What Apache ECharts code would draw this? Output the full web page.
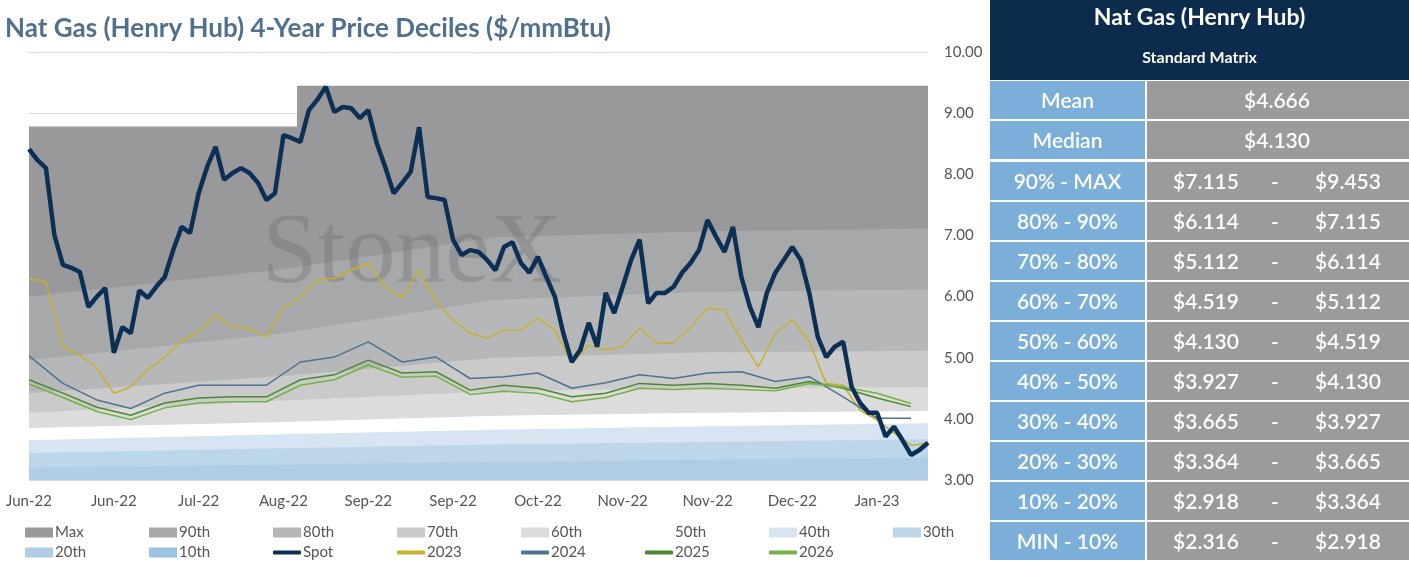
<!DOCTYPE html>
<html>
<head>
<meta charset="utf-8">
<script src="https://cdn.jsdelivr.net/npm/echarts@6/dist/echarts.min.js"></script>
<style>
  html, body { margin: 0; padding: 0; background: #fff; }
  #main { width: 1409px; height: 561px; }
</style>
</head>
<body>
<div id="main"></div>
<script>
// x tick labels, one every 10 trading days
var tickLabels = ['Jun-22', 'Jun-22', 'Jul-22', 'Aug-22', 'Sep-22', 'Sep-22', 'Oct-22', 'Nov-22', 'Nov-22', 'Dec-22', 'Jan-23'];

// spot, one value per trading day (index 0..106)
var spot = [8.41, 8.23, 8.10, 7.00, 6.52, 6.47, 6.40, 5.83, 6.00, 6.14,
  5.08, 5.50, 5.40, 6.10, 5.98, 6.16, 6.32, 6.76, 7.14, 7.04,
  7.69, 8.12, 8.45, 7.91, 8.02, 8.10, 8.02, 7.86, 7.58, 7.69,
  8.64, 8.59, 8.53, 9.05, 9.22, 9.43, 9.02, 9.10, 9.08, 8.92,
  9.05, 8.51, 8.12, 7.69, 7.86, 8.04, 8.77, 7.63, 7.61, 7.58,
  6.93, 6.68, 6.76, 6.73, 6.60, 6.43, 6.81, 6.89, 6.55, 6.39,
  6.65, 6.32, 6.00, 5.40, 4.93, 5.13, 5.57, 5.18, 6.06, 5.73,
  6.16, 6.60, 6.93, 5.89, 6.06, 6.06, 6.16, 6.39, 6.55, 6.76,
  7.25, 6.98, 6.73, 7.14, 6.32, 5.83, 5.50, 6.06, 6.39, 6.60,
  6.81, 6.60, 6.06, 5.34, 5.01, 5.18, 5.26, 4.52, 4.26, 4.10,
  4.10, 3.71, 3.87, 3.65, 3.41, 3.49, 3.61];

// strips, read every 2 days (2023) and every 4 days (2024-2026)
var strip2023 = [6.30, 6.24, 5.18, 5.04, 4.83, 4.42, 4.52, 4.80, 5.01, 5.29,
  5.42, 5.70, 5.50, 5.48, 5.34, 5.81, 5.98, 6.27, 6.30, 6.43,
  6.55, 6.16, 5.98, 6.43, 5.91, 5.62, 5.40, 5.32, 5.45, 5.45,
  5.65, 5.45, 4.91, 5.21, 5.13, 5.18, 5.49, 5.24, 5.24, 5.50,
  5.81, 5.78, 5.29, 4.85, 5.40, 5.62, 5.26, 4.58, 4.55, 4.14,
  3.98, 3.77, 3.57, 3.60];
var strip2024 = [5.03, 4.58, 4.31, 4.17, 4.42, 4.55, 4.55, 4.55, 4.93, 5.01,
  5.26, 4.93, 5.01, 4.66, 4.69, 4.75, 4.50, 4.59, 4.72, 4.66,
  4.75, 4.77, 4.61, 4.69, 4.36, 4.01, 4.01];
var strip2025 = [4.64, 4.42, 4.19, 4.06, 4.26, 4.34, 4.36, 4.36, 4.64, 4.72,
  4.96, 4.75, 4.77, 4.47, 4.55, 4.50, 4.36, 4.42, 4.58, 4.55,
  4.58, 4.55, 4.50, 4.61, 4.50, 4.34, 4.20];
var strip2026 = [4.57, 4.35, 4.12, 3.99, 4.18, 4.26, 4.28, 4.28, 4.55, 4.64,
  4.88, 4.68, 4.70, 4.40, 4.45, 4.42, 4.28, 4.35, 4.50, 4.48,
  4.50, 4.48, 4.46, 4.58, 4.52, 4.42, 4.25];

// decile boundaries at days 0, 30, 55, 80, 106
var decileDays = [0, 30, 55, 80, 106];
var maxDays = [0, 31.6, 31.6, 106];
var pMax = [8.78, 8.78, 9.45, 9.45];
var p90 = [6.00, 6.45, 6.97, 7.07, 7.115];
var p80 = [4.96, 5.40, 5.95, 6.08, 6.114];
var p70 = [4.42, 4.70, 5.00, 5.09, 5.112];
var p60 = [4.10, 4.30, 4.45, 4.50, 4.519];
var p50 = [3.85, 3.95, 4.05, 4.10, 4.130];
var p40 = [3.65, 3.75, 3.82, 3.88, 3.927];
var p30 = [3.44, 3.52, 3.58, 3.62, 3.665];
var p20 = [3.20, 3.25, 3.30, 3.33, 3.364];
var p10 = [2.90, 2.90, 2.91, 2.92, 2.918];

// table on the right
var tableTitle = 'Nat Gas (Henry Hub)';
var tableSub = 'Standard Matrix';
var meanVal = '$4.666';
var medianVal = '$4.130';
var rangeLabels = ['90% - MAX', '80% - 90%', '70% - 80%', '60% - 70%', '50% - 60%', '40% - 50%', '30% - 40%', '20% - 30%', '10% - 20%', 'MIN - 10%'];
var rangeLow = ['$7.115', '$6.114', '$5.112', '$4.519', '$4.130', '$3.927', '$3.665', '$3.364', '$2.918', '$2.316'];
var rangeHigh = ['$9.453', '$7.115', '$6.114', '$5.112', '$4.519', '$4.130', '$3.927', '$3.665', '$3.364', '$2.918'];

var FONT = 'Lato';
var myChart = echarts.init(document.getElementById('main'));

function pairs(xs, ys) {
  return ys.map(function (v, i) { return [xs[i], v]; });
}
function stepped(vals, step) {
  return vals.map(function (v, i) { return [Math.min(i * step, 106), v]; });
}
function band(name, xs, ys, color) {
  return {
    name: name, type: 'line', data: pairs(xs, ys), symbol: 'none', z: 1,
    lineStyle: { width: 0 }, itemStyle: { color: color },
    areaStyle: { color: color, opacity: 1, origin: 'start' }, silent: true
  };
}
function line(name, data, color, width) {
  return {
    name: name, type: 'line', data: data, symbol: 'none', z: 3,
    lineStyle: { color: color, width: width }, itemStyle: { color: color }
  };
}

var series = [
  band('Max', maxDays, pMax, '#99999b'),
  band('90th', decileDays, p90, '#a7a8aa'),
  band('80th', decileDays, p80, '#b6b7b9'),
  band('70th', decileDays, p70, '#cacaca'),
  band('60th', decileDays, p60, '#dcdcdc'),
  band('50th', decileDays, p50, '#ffffff'),
  band('40th', decileDays, p40, '#d7e5f2'),
  band('30th', decileDays, p30, '#bcd6ea'),
  band('20th', decileDays, p20, '#b0cde5'),
  band('10th', decileDays, p10, '#9dc3e2'),
  line('Spot', stepped(spot, 1), '#0c2f55', 4.5),
  line('2023', stepped(strip2023, 2), '#c9b02a', 1.5),
  line('2024', stepped(strip2024, 4), '#4e7391', 1.5),
  line('2025', stepped(strip2025, 4), '#4a8a2c', 1.5),
  line('2026', stepped(strip2026, 4), '#72b343', 1.5)
];
series[10].z = 4;

// table graphics
var g = [];
var TX = 990, TW = 419, COL = 155;
g.push({ type: 'rect', shape: { x: TX, y: 0, width: TW, height: 80 }, style: { fill: '#0d2b4d' } });
g.push({ type: 'text', x: TX + TW / 2, y: 18, style: { text: tableTitle, fill: '#fff', font: 'bold 23px ' + FONT, textAlign: 'center', textVerticalAlign: 'middle' } });
g.push({ type: 'text', x: TX + TW / 2, y: 58, style: { text: tableSub, fill: '#fff', font: 'bold 16px ' + FONT, textAlign: 'center', textVerticalAlign: 'middle' } });
function row(y, label, cells) {
  g.push({ type: 'rect', shape: { x: TX, y: y, width: COL, height: 38 }, style: { fill: '#7bafd9' } });
  g.push({ type: 'rect', shape: { x: TX + COL + 2, y: y, width: TW - COL - 2, height: 38 }, style: { fill: '#9a9b9d' } });
  g.push({ type: 'text', x: TX + COL / 2, y: y + 20, style: { text: label, fill: '#fff', font: '600 21px ' + FONT, textAlign: 'center', textVerticalAlign: 'middle' } });
  cells.forEach(function (c) {
    g.push({ type: 'text', x: c[0], y: y + 20, style: { text: c[1], fill: '#fff', font: '600 21px ' + FONT, textAlign: 'center', textVerticalAlign: 'middle' } });
  });
}
row(81, 'Mean', [[1277, meanVal]]);
row(121, 'Median', [[1277, medianVal]]);
rangeLabels.forEach(function (lab, i) {
  row(162 + i * 40, lab, [[1206, rangeLow[i]], [1275, '-'], [1348, rangeHigh[i]]]);
});
g.push({ type: 'text', x: 5, y: 29, style: { text: 'Nat Gas (Henry Hub) 4-Year Price Deciles ($/mmBtu)', fill: '#50708d', font: 'bold 26px ' + FONT, textVerticalAlign: 'middle' } });
g.push({ type: 'text', x: 262, y: 255, z: 2, style: { text: 'StoneX', fill: 'rgba(110,110,112,0.35)', font: '100px "Liberation Serif"', textVerticalAlign: 'middle' } });

// legend: one small legend per item on a fixed 124px pitch
var legendItems = [
  ['Max', 'rect'], ['90th', 'rect'], ['80th', 'rect'], ['70th', 'rect'], ['60th', 'rect'], ['50th', 'rect'], ['40th', 'rect'], ['30th', 'rect'],
  ['20th', 'rect'], ['10th', 'rect'], ['Spot', 'line'], ['2023', 'line'], ['2024', 'line'], ['2025', 'line'], ['2026', 'line']
];
var legends = legendItems.map(function (it, i) {
  var col = i % 8, r = Math.floor(i / 8);
  return {
    left: 25 + col * 124, top: 525 + r * 20, padding: 0, itemWidth: 28, itemHeight: it[1] === 'rect' ? 10 : 4, itemGap: 0,
    icon: it[1] === 'rect' ? 'rect' : 'roundRect',
    textStyle: { fontFamily: FONT, fontSize: 15, color: '#555', padding: [0, 0, 0, -3] },
    data: [it[0]]
  };
});

var option = {
  animation: false,
  grid: { left: 29, right: 481, top: 52, bottom: 81 },
  xAxis: {
    type: 'value', min: 0, max: 106, interval: 10,
    axisLine: { show: false }, axisTick: { show: false }, splitLine: { show: false },
    axisLabel: {
      fontFamily: FONT, fontSize: 15, color: '#555', margin: 14, showMaxLabel: false,
      formatter: function (v) { return tickLabels[v / 10] || ''; }
    }
  },
  yAxis: {
    type: 'value', position: 'right', min: 3, max: 10, interval: 1,
    axisLine: { show: false }, axisTick: { show: false },
    splitLine: { lineStyle: { color: '#d9d9d9' } },
    axisLabel: { fontFamily: FONT, fontSize: 15, color: '#555', margin: 16, formatter: function (v) { return v.toFixed(2); } }
  },
  legend: legends,
  graphic: g,
  series: series
};
myChart.setOption(option);
</script>
</body>
</html>
